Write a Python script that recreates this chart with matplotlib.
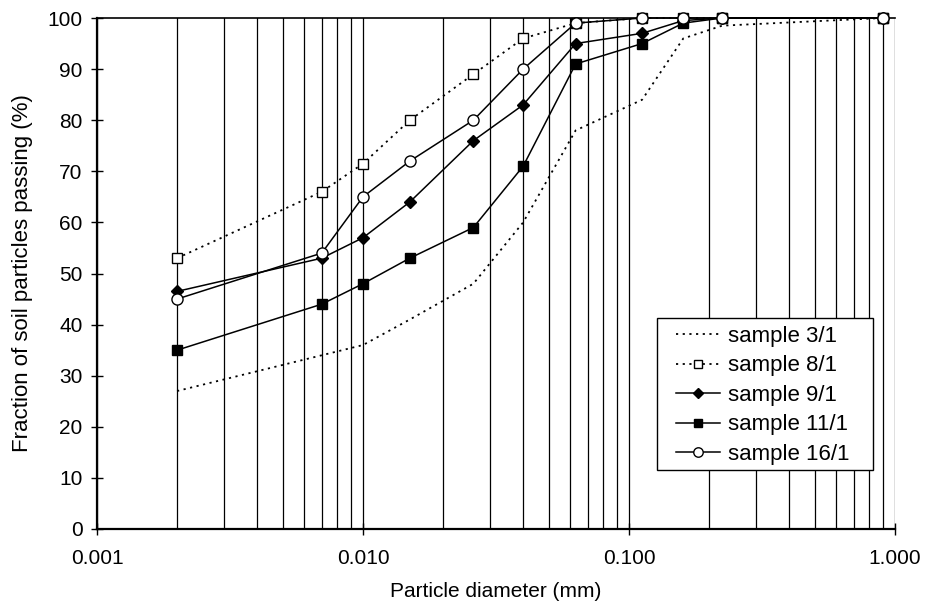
import matplotlib
matplotlib.use("Agg")
import matplotlib.pyplot as plt
from matplotlib.patches import Rectangle
from matplotlib.ticker import LogLocator, FuncFormatter, NullFormatter

plt.rcParams['font.family'] = ['Liberation Sans', 'DejaVu Sans']

# particle diameters (mm)
d = [0.002, 0.007, 0.010, 0.015, 0.026, 0.040, 0.063, 0.112, 0.160, 0.224, 0.900]

s3_1 = [27, 34, 36, 41, 48, 60, 78, 84, 96, 98.5, 100]
s8_1 = [53, 66, 71.5, 80, 89, 96, 99, 100, 100, 100, 100]
s9_1 = [46.5, 53, 57, 64, 76, 83, 95, 97, 99.5, 100, 100]
s11_1 = [35, 44, 48, 53, 59, 71, 91, 95, 99, 100, 100]
s16_1 = [45, 54, 65, 72, 80, 90, 99, 100, 100, 100, 100]

W, H = 925, 611
L, R, T, B = 97, 895, 18, 529
fig = plt.figure(figsize=(W / 100, H / 100), dpi=100)
ax = fig.add_axes([L / W, 1 - B / H, (R - L) / W, (B - T) / H])

def ax_xy(px, py):
    # pixel position -> axes fraction
    return (px - L) / (R - L), (B - py) / (B - T)

dots = (0, (1.2, 2.5))
ax.plot(d, s3_1, color='black', linestyle=dots, linewidth=1.3,
        label='sample 3/1', zorder=3, clip_on=False)
ax.plot(d, s8_1, color='black', linestyle=dots, linewidth=1.3,
        marker='s', markersize=7.5, markerfacecolor='white', markeredgecolor='black',
        markeredgewidth=1.0, label='sample 8/1', zorder=3, clip_on=False)
ax.plot(d, s9_1, color='black', linewidth=1.1, marker='D', markersize=6.5,
        markerfacecolor='black', label='sample 9/1', zorder=3, clip_on=False)
ax.plot(d, s11_1, color='black', linewidth=1.1, marker='s', markersize=7,
        markerfacecolor='black', label='sample 11/1', zorder=3, clip_on=False)
ax.plot(d, s16_1, color='black', linewidth=1.1, marker='o', markersize=8,
        markerfacecolor='white', markeredgecolor='black', markeredgewidth=1.0,
        label='sample 16/1', zorder=3, clip_on=False)

ax.set_xscale('log')
ax.set_xlim(0.001, 1.0)
ax.set_ylim(0, 100)
ax.set_yticks(range(0, 101, 10))
ax.xaxis.set_major_locator(LogLocator(base=10, numticks=10))
ax.xaxis.set_minor_locator(LogLocator(base=10, subs=range(2, 10), numticks=20))
ax.xaxis.set_major_formatter(FuncFormatter(lambda v, p: '%.3f' % v))
ax.xaxis.set_minor_formatter(NullFormatter())

# vertical gridlines at every decade step
ax.grid(True, which='both', axis='x', color='black', linewidth=0.9)
ax.set_axisbelow(True)

ax.tick_params(axis='both', which='major', direction='inout', length=9,
               width=1.0, labelsize=15, color='black')
ax.tick_params(axis='y', pad=6)
ax.tick_params(axis='x', pad=10)
ax.tick_params(axis='x', which='minor', length=0)

for side in ['left', 'bottom']:
    ax.spines[side].set_linewidth(1.6)
ax.spines['top'].set_linewidth(1.2)
ax.spines['right'].set_visible(False)

ax.set_xlabel('Particle diameter (mm)', fontsize=15, labelpad=10)
ax.set_ylabel('Fraction of soil particles passing (%)', fontsize=16, labelpad=10)

# legend box drawn by hand, legend entries placed inside it
x0, y0 = ax_xy(657, 470)
x1, y1 = ax_xy(873, 318)
ax.add_patch(Rectangle((x0, y0), x1 - x0, y1 - y0, transform=ax.transAxes,
                       facecolor='white', edgecolor='black', linewidth=1.0, zorder=4))
lx, ly = ax_xy(676, 326)
leg = ax.legend(loc='upper left', bbox_to_anchor=(lx, ly), fontsize=16, frameon=False,
                borderpad=0, labelspacing=0.38, handlelength=2.0, markerscale=0.85,
                handletextpad=0.35, borderaxespad=0)
leg.set_zorder(5)

fig.savefig('out.png', dpi=100)
